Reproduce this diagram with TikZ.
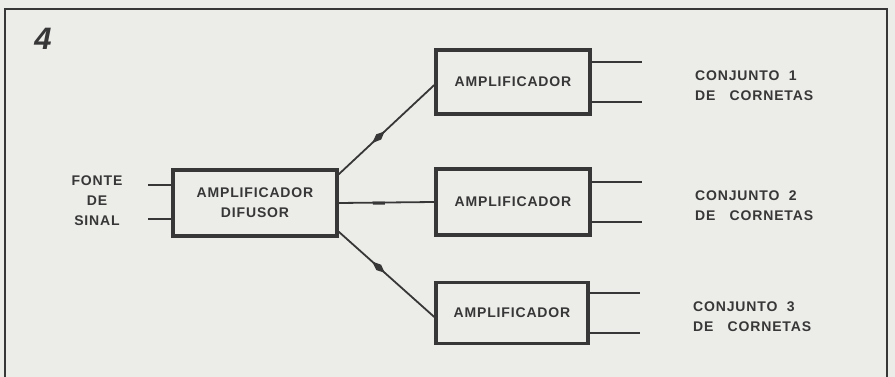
\documentclass[tikz,border=0pt]{standalone}
\usepackage{fontspec}
\setsansfont{Liberation Sans}
\usetikzlibrary{arrows.meta, positioning, calc, decorations.markings}
\definecolor{PaperGray}{RGB}{236,236,233}
\definecolor{InkGray}{RGB}{55,55,55}

\begin{document}
\begin{tikzpicture}[x=1pt, y=-1pt,
    lbl/.style={font=\sffamily\bfseries\fontsize{14}{20}\selectfont\addfontfeature{LetterSpace=6}, text=InkGray},
    ampbox/.style={draw=InkGray, line width=3.4pt, inner sep=0pt, minimum width=154pt, minimum height=64pt, align=center, lbl},
    wire/.style={draw=InkGray, line width=1.8pt},
    feed/.style={wire, decoration={markings, mark=at position 0.42 with {\fill[InkGray] (-9pt,0pt) -- (0pt,3.6pt) -- (8pt,0pt) -- (0pt,-3.6pt) -- cycle;}}, postaction={decorate}},
    tick/.style={wire, decoration={markings, mark=at position 0.42 with {\fill[InkGray] (-6pt,-2pt) rectangle (6pt,1pt);}}, postaction={decorate}}]
  \fill[PaperGray] (0,0) rectangle (895,377);
  \useasboundingbox (0,0) rectangle (895,377);
  \draw[InkGray, line width=2.2pt] (5,380) -- (5,9) -- (887,9) -- (887,380);
  \node[font=\sffamily\bfseries\itshape\fontsize{31}{31}\selectfont, text=InkGray] (num) at (43,39) {4};

  % entrada
  \node[ampbox, minimum width=164pt, minimum height=66pt] (dif) at (255,203) {AMPLIFICADOR\\DIFUSOR};
  \node[lbl, align=center] (fonte) at (97,201) {FONTE\\DE\\SINAL};
  \coordinate (in1) at (148,185);
  \coordinate (in2) at (148,219);
  \draw[wire, line width=2.2pt] (in1) -- (in1 -| dif.west);
  \draw[wire, line width=2.2pt] (in2) -- (in2 -| dif.west);

  % amplificadores
  \node[ampbox] (amp1) at (513,82) {AMPLIFICADOR};
  \node[ampbox, minimum height=66pt] (amp2) at (513,202) {AMPLIFICADOR};
  \node[ampbox, minimum width=152pt, minimum height=61pt] (amp3) at (512,313) {AMPLIFICADOR};

  \draw[feed] ([yshift=-6pt]dif.north east) -- ([yshift=-3pt]amp1.west);
  \draw[tick] (dif.east) -- (amp2.west);
  \draw[feed] ([yshift=6pt]dif.south east) -- ([yshift=-4pt]amp3.west);

  % cornetas
  \foreach \i in {1,2,3} {
    \draw[wire, line width=2.4pt] ([yshift=20pt]amp\i.east) -- +(50,0);
    \draw[wire, line width=2.4pt] ([yshift=-20pt]amp\i.east) -- +(50,0);
    \node[lbl, align=left, anchor=west] (conj\i) at ($(amp\i.east)+(100,4)$) {CONJUNTO\ \ \i\\DE\ \ \ CORNETAS};
  }
\end{tikzpicture}
\end{document}
